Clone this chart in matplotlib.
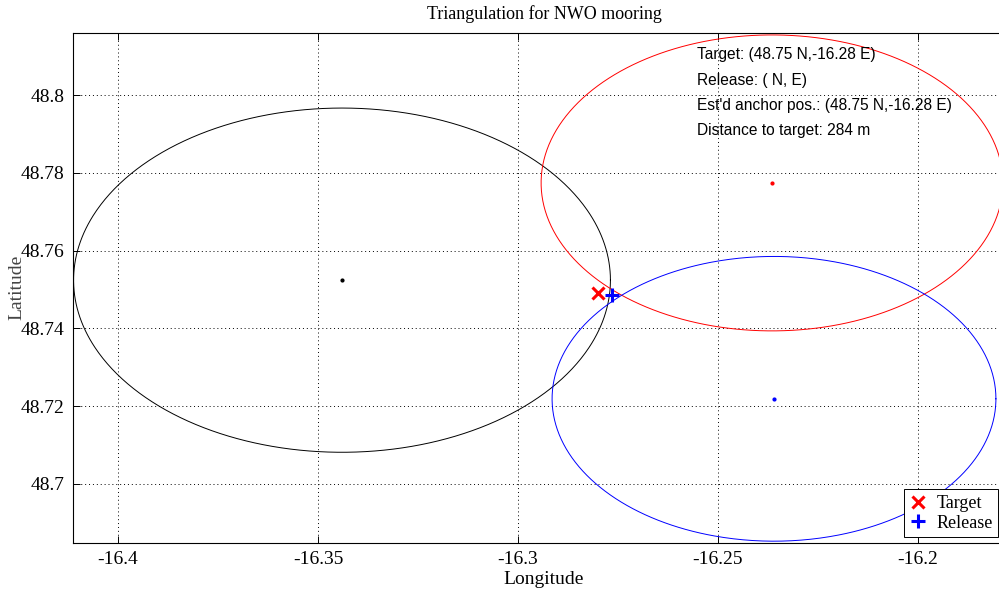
import numpy as np
import matplotlib
matplotlib.use("Agg")
import matplotlib.pyplot as plt

# ---- data ----
station_lon = [-16.3440, -16.2365, -16.2360]
station_lat = [48.7524, 48.7774, 48.7219]
station_range_km = [4.92, 4.23, 4.07]
station_colors = ['black', 'red', 'blue']

target_lon, target_lat = -16.2800, 48.7491
release_lon, release_lat = -16.2765, 48.7486

info_lines = ["Target: (48.75 N,-16.28 E)",
              "Release: ( N, E)",
              "Est'd anchor pos.: (48.75 N,-16.28 E)",
              "Distance to target: 284 m"]

xticks = [-16.4, -16.35, -16.3, -16.25, -16.2]
xtick_labels = ["-16.4", "-16.35", "-16.3", "-16.25", "-16.2"]
yticks = [48.7, 48.72, 48.74, 48.76, 48.78, 48.8]
ytick_labels = ["48.7", "48.72", "48.74", "48.76", "48.78", "48.8"]

serif = ['Liberation Serif', 'DejaVu Serif']
sans = ['Liberation Sans', 'DejaVu Sans']

W, H = 999, 592
fig = plt.figure(figsize=(W / 100, H / 100), dpi=100)
ax_left, ax_right, ax_top, ax_bot = 73, 1015, 33, 543
ax = fig.add_axes([ax_left / W, (H - ax_bot) / H, (ax_right - ax_left) / W, (ax_bot - ax_top) / H])

t = np.linspace(0, 2 * np.pi, 721)
for lo, la, r, c in zip(station_lon, station_lat, station_range_km, station_colors):
    dlat = r / 111.2
    dlon = dlat / np.cos(np.radians(la))
    ax.plot(lo + dlon * np.cos(t), la + dlat * np.sin(t), color=c, lw=0.7)
    ax.plot(lo, la, '.', color=c, ms=4)

ax.plot(target_lon, target_lat, 'x', color='red', ms=8, mew=2.2, label='Target')
ax.plot(release_lon, release_lat, '+', color='blue', ms=10, mew=2.2, label='Release')

for i, s in enumerate(info_lines):
    ax.text(-16.2553, 48.8103 - i * 0.00645, s, fontsize=11.2, family=sans,
            va='center', ha='left')

lx0 = -16.4 - (118 - ax_left) / 200 * 0.05
lx1 = -16.4 + (ax_right - 118) / 200 * 0.05
ax.set_xlim(lx0, lx1)
ax.set_ylim(48.7 - (543 - 484) / 3890, 48.8 + (95 - 33) / 3890)
ax.set_xticks(xticks)
ax.set_xticklabels(xtick_labels, family=serif, fontsize=14)
ax.set_yticks(yticks)
ax.set_yticklabels(ytick_labels, family=serif, fontsize=14)
ax.tick_params(direction='in', top=True, right=True, length=5, width=0.7, pad=6)
ax.grid(True, linestyle=(0, (1, 3)), color='black', lw=0.7)
for sp in ax.spines.values():
    sp.set_linewidth(0.8)

ax.set_xlabel('Longitude', family=serif, fontsize=14, labelpad=2)
fig.text(17 / W, (H - 287) / H, 'Latitude', family=serif, fontsize=14, rotation=90,
         ha='center', va='center', color='#444444')
ax.set_title('Triangulation for NWO mooring', family=serif, fontsize=13, pad=10)

leg = ax.legend(loc='lower right', bbox_to_anchor=(998 / W, (H - 537) / H),
                bbox_transform=fig.transFigure, borderaxespad=0,
                prop={'family': serif, 'size': 13}, fancybox=False,
                framealpha=1, edgecolor='black', handlelength=1.0,
                handletextpad=0.5, borderpad=0.3, labelspacing=0.15)
leg.get_frame().set_linewidth(0.7)

fig.savefig('out.png', dpi=100)
